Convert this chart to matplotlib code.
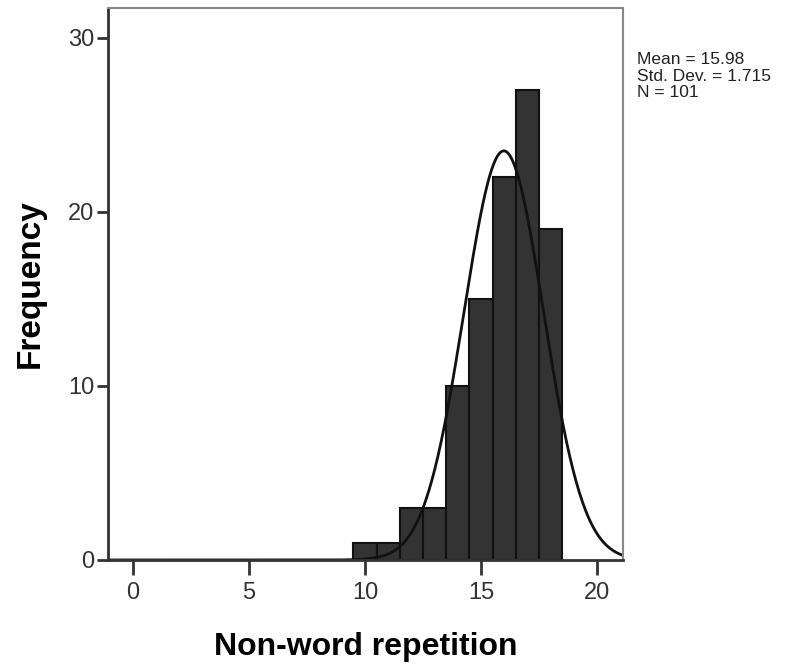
import numpy as np
import matplotlib.pyplot as plt

plt.rcParams['font.family'] = ['Liberation Sans', 'DejaVu Sans']

# histogram of non-word repetition scores
scores = [10, 11, 12, 13, 14, 15, 16, 17, 18]
counts = [1, 1, 3, 3, 10, 15, 22, 27, 19]
mean = 15.98
sd = 1.715
n = 101

fig = plt.figure(figsize=(8.11, 6.68), dpi=100)
ax = fig.add_axes([0.1332, 0.1617, 0.6345, 0.8263])

ax.bar(scores, counts, width=1.0, color='#333333', edgecolor='#111111', linewidth=1.5)

xmin, xmax = -1.08, 21.1
xs = np.linspace(xmin, xmax, 500)
curve = n * 1.0 / (sd * np.sqrt(2 * np.pi)) * np.exp(-0.5 * ((xs - mean) / sd) ** 2)
ax.plot(xs, curve, color='#111111', linewidth=2)

ax.set_xlim(xmin, xmax)
ax.set_ylim(0, 31.7)
ax.set_xticks([0, 5, 10, 15, 20])
ax.set_yticks([0, 10, 20, 30])

for side in ['left', 'bottom']:
    ax.spines[side].set_color('#333333')
    ax.spines[side].set_linewidth(2)
for side in ['top', 'right']:
    ax.spines[side].set_color('#888888')
    ax.spines[side].set_linewidth(1.5)

ax.tick_params(axis='x', length=11, width=2, color='#333333', labelsize=17,
               labelcolor='#333333', pad=5)
ax.tick_params(axis='y', length=8, width=2, color='#333333', labelsize=17,
               labelcolor='#333333', pad=2)

ax.set_xlabel('Non-word repetition', fontsize=23, fontweight='bold', labelpad=20)
ax.set_ylabel('Frequency', fontsize=24, fontweight='bold', labelpad=16)

fig.text(0.785, 0.922, 'Mean = 15.98\nStd. Dev. = 1.715\nN = 101',
         fontsize=12.5, va='top', ha='left', linespacing=1.12, color='#222222')

fig.savefig('out.png', dpi=100)
